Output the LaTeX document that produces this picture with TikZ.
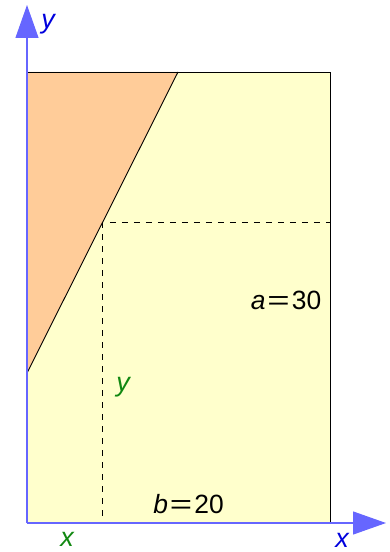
\documentclass[tikz,border=0pt]{standalone}
\usepackage{fontspec}
\usepackage{graphicx}
\setmainfont{Liberation Sans}
\usetikzlibrary{arrows.meta}
\definecolor{fillY}{HTML}{FFFFCC}
\definecolor{fillO}{HTML}{FFCC99}
\definecolor{axisC}{HTML}{6666FF}
\definecolor{lblB}{HTML}{0000DD}
\definecolor{lblG}{HTML}{118811}
\newcommand{\wideeq}{\hspace{2bp}\scalebox{1.45}[1]{=}\hspace{2bp}}
\tikzset{
  axisline/.style={draw=axisC, line width=1.2bp, -{Triangle[length=33bp,width=23bp]}},
  dashline/.style={draw=black, line width=0.8bp, dash pattern=on 6bp off 6bp},
  lbl/.style={font=\fontsize{27}{32}\selectfont, inner sep=0pt},
  eqlbl/.style={font=\fontsize{26.5}{32}\selectfont, inner sep=0pt, text=black},
}
\begin{document}
\begin{tikzpicture}[x=1bp,y=-1bp]
\useasboundingbox (0,0) rectangle (389,552);
\coordinate (O) at (27,523);
\coordinate (TL) at (27,72);
\coordinate (TR) at (330,72);
\coordinate (BR) at (330,523);
\coordinate (TT) at (178,72);
\coordinate (LL) at (27,373);
\coordinate (P) at (102.75,222);
\coordinate (PB) at (102.75,523);
\coordinate (PR) at (330,222);
\coordinate (YA) at (27,5);
\coordinate (XA) at (386,523);
\fill[fillY] (O) rectangle (TR);
\fill[fillO] (TL) -- (TT) -- (LL) -- cycle;
\draw[line width=0.8bp] (O) -- (TL) -- (TR) -- (BR) -- cycle;
\draw[line width=0.9bp] (TT) -- (LL);
\draw[dashline] (P) -- (PB);
\draw[dashline] (P) ++(7,0) -- (PR);
\draw[axisline] (O) -- (YA);
\draw[axisline] (O) -- (XA);
\node[lbl, text=lblB] (ly) at (48,24) {\itshape y};
\node[lbl, text=lblB] (lx) at (342,540) {\itshape x};
\node[lbl, text=lblG] (gx) at (67,539) {\itshape x};
\node[lbl, text=lblG] (gy) at (123,387) {\itshape y};
\node[eqlbl] (lb) at (188.5,504) {{\itshape b}\wideeq 20};
\node[eqlbl] (la) at (286,300) {{\itshape a}\wideeq 30};
\end{tikzpicture}
\end{document}
